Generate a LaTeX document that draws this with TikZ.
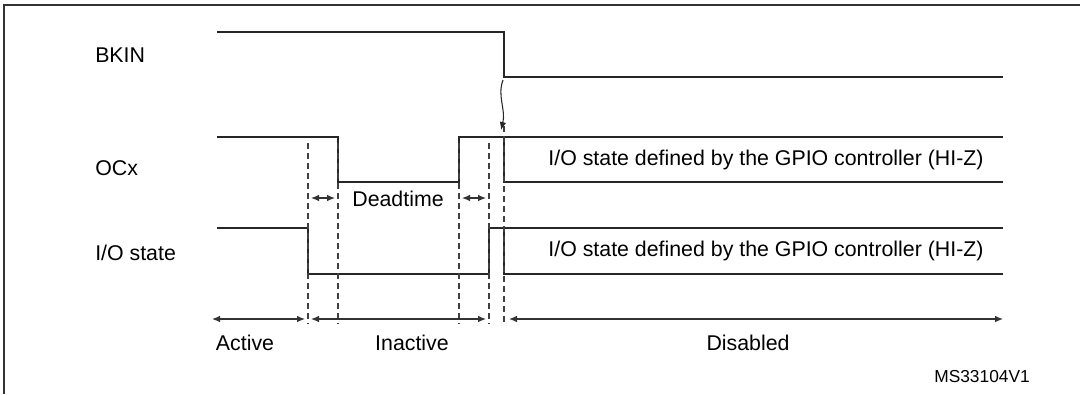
\documentclass[tikz,border=0pt]{standalone}
\usepackage{fontspec}
\setmainfont{Liberation Sans}
\usetikzlibrary{arrows.meta}

\begin{document}
\begin{tikzpicture}[
        x=0.75pt, y=-0.75pt,
        signal/.style={draw=black!85, line width=0.9pt},
        guide/.style={draw=black!75, line width=0.8pt, dash pattern=on 4.5pt off 3pt},
        phase/.style={draw=black!80, line width=0.9pt, {Latex[length=6pt,width=5pt]}-{Latex[length=6pt,width=5pt]}},
        signame/.style={anchor=west, inner sep=0pt, font=\fontsize{16}{19}\selectfont},
        caption/.style={inner sep=0pt, font=\fontsize{16}{19}\selectfont}
        ]
        \useasboundingbox (0,0) rectangle (1080,394);
        % frame
        \draw[black!80, line width=1.1pt] (4,394) -- (4,5) -- (1080,5);

        \node[signame]                      (bkin)  at (95,55)      {BKIN};
        \node[signame]                      (ocx)   at (95,168)     {OCx};
        \node[signame]                      (io)    at (95,253)     {I/O state};

        % waveforms
        \draw[signal] (217,32) -- (504,32) -- (504,77) -- (1003,77);
        \draw[signal] (217,137) -- (338,137) -- (338,182) -- (459,182) -- (459,137) -- (504,137) -- (504,182) -- (1003,182);
        \draw[signal] (504,137) -- (1003,137);
        \draw[signal] (217,228) -- (308,228) -- (308,274) -- (489,274) -- (489,228) -- (504,228) -- (504,274) -- (1003,274);
        \draw[signal] (504,228) -- (1003,228);

        \foreach \t in {308,338,459,489}
            \draw[guide] (\t,143) -- (\t,324);
        \draw[guide] (504,126) -- (504,324);

        % break propagation
        \coordinate (brk) at (503,80);
        \coordinate (hit) at (501,130);
        \draw[black!85, line width=0.8pt, -{Latex[length=6pt,width=5pt]}]
            (brk) .. controls (497,96) and (506,110) .. (hit);

        % deadtime
        \coordinate (d_0) at (311,198);
        \coordinate (d_1) at (335,198);
        \coordinate (d_2) at (462,198);
        \coordinate (d_3) at (486,198);
        \draw[phase] (d_0) -- (d_1);
        \draw[phase] (d_2) -- (d_3);
        \node[caption]                      (dead)  at (398,199)    {Deadtime};

        \node[caption]                      (hiz_o) at (766,160)    {I/O state defined by the GPIO controller (HI-Z)};
        \node[caption]                      (hiz_i) at (766,251)    {I/O state defined by the GPIO controller (HI-Z)};

        % phases
        \coordinate (p_0) at (212,319);
        \coordinate (p_1) at (305,319);
        \coordinate (p_2) at (311,319);
        \coordinate (p_3) at (486,319);
        \coordinate (p_4) at (509,319);
        \coordinate (p_5) at (1003,319);
        \draw[phase] (p_0) -- (p_1);
        \draw[phase] (p_2) -- (p_3);
        \draw[phase] (p_4) -- (p_5);
        \node[caption]                      (act)   at (245,343)    {Active};
        \node[caption]                      (inact) at (412,343)    {Inactive};
        \node[caption]                      (dis)   at (748,343)    {Disabled};

        \node[caption, anchor=east, font=\fontsize{13}{15}\selectfont] (ref) at (1030,377) {MS33104V1};
\end{tikzpicture}
\end{document}
